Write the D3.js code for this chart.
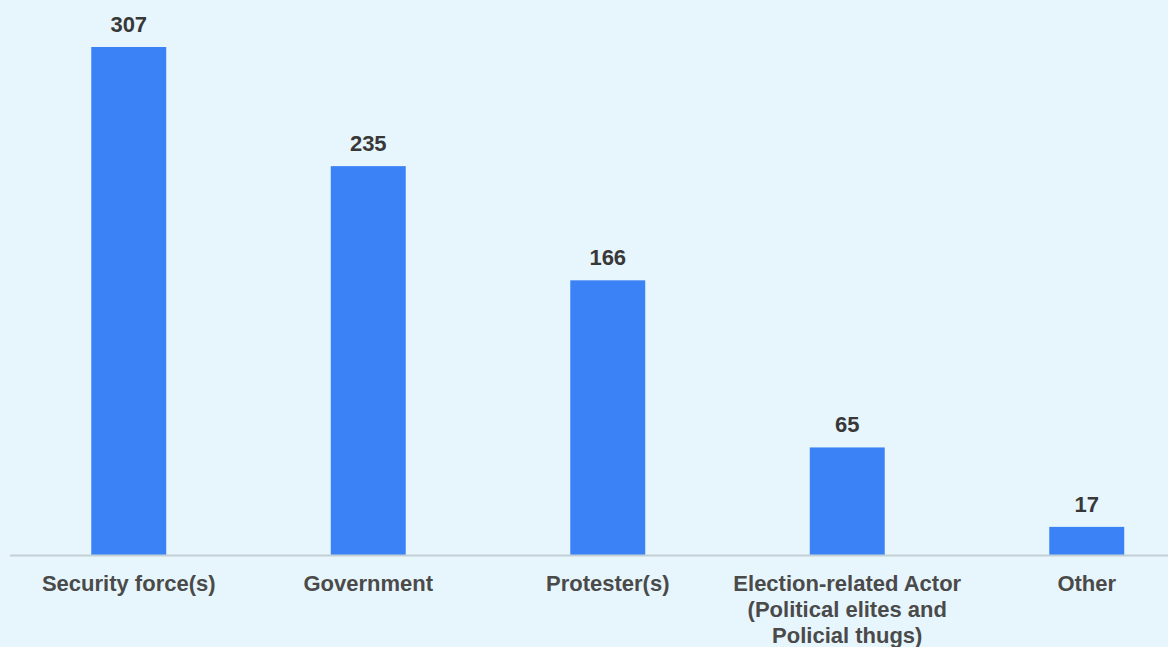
<!DOCTYPE html>
<html>
<head>
<meta charset="utf-8">
<script src="https://cdn.jsdelivr.net/npm/d3@7"></script>
<style>
  html, body { margin: 0; padding: 0; background: #e7f6fd; }
  svg { display: block; }
</style>
</head>
<body>
<svg id="chart" width="1168" height="647"></svg>
<script>
// Reported events by actor type
const categories = [
  "Security force(s)",
  "Government",
  "Protester(s)",
  "Election-related Actor (Political elites and Policial thugs)",
  "Other"
];
const categoryLines = [
  ["Security force(s)"],
  ["Government"],
  ["Protester(s)"],
  ["Election-related Actor", "(Political elites and", "Policial thugs)"],
  ["Other"]
];
const values = [307, 235, 166, 65, 17];

const width = 1168, height = 647;
const baseline = 555;
const svg = d3.select("#chart");

svg.append("rect").attr("width", width).attr("height", height).attr("fill", "#e7f6fd");

const x = d3.scaleBand()
  .domain(categories)
  .range([9, 1206.5])
  .paddingInner(0.687)
  .paddingOuter(0.3435);

const y = d3.scaleLinear()
  .domain([0, 307])
  .range([baseline, 47]);

// bars
svg.selectAll("rect.bar")
  .data(categories)
  .join("rect")
  .attr("class", "bar")
  .attr("x", d => x(d))
  .attr("width", x.bandwidth())
  .attr("y", (d, i) => y(values[i]))
  .attr("height", (d, i) => baseline - y(values[i]))
  .attr("fill", "#3b82f6");

// baseline axis
svg.append("line")
  .attr("x1", 10).attr("x2", width)
  .attr("y1", baseline + 0.5).attr("y2", baseline + 0.5)
  .attr("stroke", "#c3d0d6").attr("stroke-width", 2);

// value labels
svg.selectAll("text.value")
  .data(categories)
  .join("text")
  .attr("class", "value")
  .attr("x", d => x(d) + x.bandwidth() / 2)
  .attr("y", (d, i) => y(values[i]) - 15)
  .attr("text-anchor", "middle")
  .attr("font-family", "Liberation Sans, Arial, sans-serif")
  .attr("font-weight", "bold")
  .attr("font-size", 22)
  .attr("fill", "#383838")
  .text((d, i) => values[i]);

// category labels
const cat = svg.selectAll("text.cat")
  .data(categories)
  .join("text")
  .attr("class", "cat")
  .attr("text-anchor", "middle")
  .attr("font-family", "Liberation Sans, Arial, sans-serif")
  .attr("font-weight", "bold")
  .attr("font-size", 22)
  .attr("fill", "#4a4a4a");

cat.each(function(d, i) {
  const t = d3.select(this);
  categoryLines[i].forEach((line, j) => {
    t.append("tspan")
      .attr("x", x(d) + x.bandwidth() / 2)
      .attr("y", 591 + j * 26)
      .text(line);
  });
});
</script>
</body>
</html>
